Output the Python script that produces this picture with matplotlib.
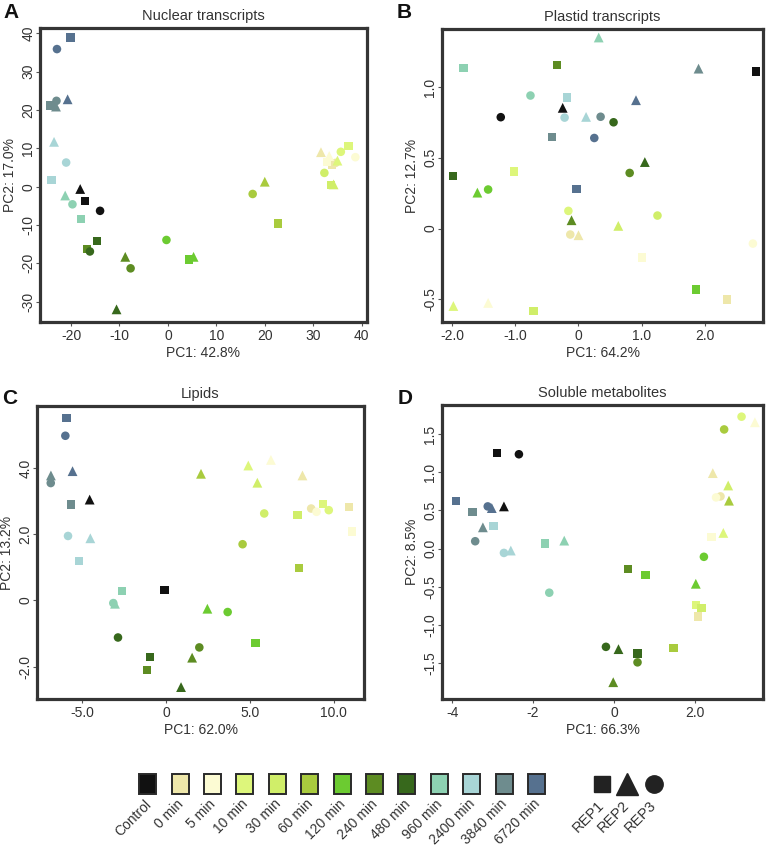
import numpy as np
import matplotlib
matplotlib.use('Agg')
import matplotlib.pyplot as plt
from matplotlib.patches import Rectangle

plt.rcParams['font.family'] = ['Liberation Sans', 'DejaVu Sans']

# conditions and colours
conditions = ['Control', '0 min', '5 min', '10 min', '30 min', '60 min', '120 min',
              '240 min', '480 min', '960 min', '2400 min', '3840 min', '6720 min']
colors = ['#111111', '#EEE7AA', '#FCFBD3', '#DDF67B', '#D0EE69', '#A9CB3E', '#6CCB31',
          '#5D8C22', '#37681C', '#8DD1B2', '#A8D5D6', '#6E8C8E', '#56718F']
reps = ['REP1', 'REP2', 'REP3']
rep_markers = ['s', '^', 'o']
nan = np.nan

# each row = one condition, values for [REP1, REP2, REP3]
nuc_pc1 = [[-17.1, -18.1, -14.0], [33.9, 31.6, 34.6], [32.8, 33.3, 38.7], [37.3, 35.0, 35.7],
           [33.7, 34.2, 32.3], [22.7, 20.0, 17.5], [4.3, 5.3, -0.3], [-16.7, -8.8, -7.7],
           [-14.7, -10.6, -16.1], [-18.0, -21.2, -19.7], [-24.0, -23.5, -21.0],
           [-24.2, -23.1, -23.0], [-20.1, -20.7, -22.9]]
nuc_pc2 = [[-3.8, -0.6, -6.3], [5.6, 9.0, 6.2], [6.5, 8.0, 7.7], [10.6, 6.8, 9.1],
           [0.4, 0.6, 3.6], [-9.6, 1.3, -1.9], [-19.0, -18.3, -13.9], [-16.3, -18.3, -21.3],
           [-14.1, -32.0, -16.9], [-8.5, -2.3, -4.6], [1.7, 11.7, 6.3],
           [21.2, 20.9, 22.4], [38.9, 22.8, 35.9]]

pla_pc1 = [[2.81, -0.25, -1.23], [2.35, 0.0, -0.13], [1.0, -1.43, 2.76], [-1.02, -1.98, -0.16],
           [-0.71, 0.63, 1.25], [nan, nan, nan], [1.86, -1.60, -1.43], [-0.34, -0.11, 0.81],
           [-1.99, 1.05, 0.555], [-1.82, 0.32, -0.76], [-0.18, 0.12, -0.22],
           [-0.42, 1.90, 0.35], [-0.03, 0.91, 0.25]]
pla_pc2 = [[1.11, 0.853, 0.787], [-0.50, -0.047, -0.042], [-0.205, -0.525, -0.106],
           [0.403, -0.547, 0.125], [-0.58, 0.019, 0.092], [nan, nan, nan],
           [-0.431, 0.254, 0.276], [1.154, 0.059, 0.393], [0.37, 0.47, 0.751],
           [1.135, 1.35, 0.94], [0.926, 0.789, 0.784], [0.645, 1.13, 0.79],
           [0.28, 0.907, 0.64]]

lip_pc1 = [[-0.1, -4.56, nan], [10.89, 8.13, 8.65], [11.09, 6.25, 8.97], [9.37, 4.9, 9.7],
           [7.84, 5.44, 5.85], [7.92, 2.08, 4.56], [5.32, 2.46, 3.67], [-1.13, 1.55, 1.98],
           [-0.95, 0.89, -2.87], [-2.64, -3.05, -3.15], [-5.2, -4.52, -5.85],
           [-5.69, -6.87, -6.88], [-5.95, -5.58, -6.01]]
lip_pc2 = [[0.32, 3.05, nan], [2.82, 3.78, 2.78], [2.08, 4.25, 2.68], [2.91, 4.08, 2.73],
           [2.58, 3.56, 2.63], [0.98, 3.83, 1.7], [-1.29, -0.25, -0.35], [-2.1, -1.73, -1.42],
           [-1.70, -2.62, -1.12], [0.28, -0.1, -0.08], [1.2, 1.88, 1.95],
           [2.9, 3.78, 3.55], [5.51, 3.91, 4.98]]

sol_pc1 = [[-2.89, -2.72, -2.35], [2.07, 2.44, 2.63], [2.41, 3.48, 2.52], [2.02, 2.7, 3.15],
           [2.16, 2.82, nan], [1.47, 2.84, 2.72], [0.78, 2.02, 2.22], [0.34, -0.02, 0.58],
           [0.58, 0.11, -0.2], [-1.71, -1.23, -1.6], [-2.98, -2.55, -2.72],
           [-3.5, -3.24, -3.43], [-3.9, -3.02, -3.12]]
sol_pc2 = [[1.248, 0.552, 1.235], [-0.891, 0.988, 0.683], [0.153, 1.654, 0.67],
           [-0.739, 0.205, 1.727], [-0.774, 0.826, nan], [-1.304, 0.627, 1.56],
           [-0.348, -0.461, -0.108], [-0.27, -1.75, -1.49], [-1.374, -1.317, -1.287],
           [0.065, 0.104, -0.578], [0.296, -0.026, -0.057], [0.483, 0.278, 0.096],
           [0.626, 0.53, 0.552]]

W, H = 771, 849
fig = plt.figure(figsize=(W / 100, H / 100), dpi=100)
txt = '#333333'

def box(l, t, r, b):
    return [l / W, 1 - b / H, (r - l) / W, (b - t) / H]

panels = [
    dict(letter='A', title='Nuclear transcripts', pc1=nuc_pc1, pc2=nuc_pc2,
         xl='PC1: 42.8%', yl='PC2: 17.0%', rect=box(40, 28, 367, 322),
         xlim=(-26.4, 41.1), ylim=(-35.3, 41.4),
         xt=[-20, -10, 0, 10, 20, 30, 40], xtl=['-20', '-10', '0', '10', '20', '30', '40'],
         yt=[-30, -20, -10, 0, 10, 20, 30, 40], ytl=['-30', '-20', '-10', '0', '10', '20', '30', '40']),
    dict(letter='B', title='Plastid transcripts', pc1=pla_pc1, pc2=pla_pc2,
         xl='PC1: 64.2%', yl='PC2: 12.7%', rect=box(442, 29, 763, 322),
         xlim=(-2.16, 2.92), ylim=(-0.66, 1.41),
         xt=[-2, -1, 0, 1, 2], xtl=['-2.0', '-1.0', '0', '1.0', '2.0'],
         yt=[-0.5, 0, 0.5, 1.0], ytl=['-0.5', '0', '0.5', '1.0']),
    dict(letter='C', title='Lipids', pc1=lip_pc1, pc2=lip_pc2,
         xl='PC1: 62.0%', yl='PC2: 13.2%', rect=box(37, 406, 364, 699),
         xlim=(-7.7, 11.8), ylim=(-2.98, 5.88),
         xt=[-5, 0, 5, 10], xtl=['-5.0', '0', '5.0', '10.0'],
         yt=[-2, 0, 2, 4], ytl=['-2.0', '0', '2.0', '4.0']),
    dict(letter='D', title='Soluble metabolites', pc1=sol_pc1, pc2=sol_pc2,
         xl='PC1: 66.3%', yl='PC2: 8.5%', rect=box(442, 405, 763, 699),
         xlim=(-4.25, 3.68), ylim=(-1.97, 1.88),
         xt=[-4, -2, 0, 2], xtl=['-4', '-2', '0', '2.0'],
         yt=[-1.5, -1.0, -0.5, 0, 0.5, 1.0, 1.5],
         ytl=['-1.5', '-1.0', '-0.5', '0.0', '0.5', '1.0', '1.5']),
]

sizes = {'s': 36, '^': 50, 'o': 38}

for p in panels:
    ax = fig.add_axes(p['rect'])
    x = np.array(p['pc1'])
    y = np.array(p['pc2'])
    for ci in range(len(conditions)):
        for ri, m in enumerate(rep_markers):
            ax.scatter(x[ci, ri], y[ci, ri], marker=m, s=sizes[m], color=colors[ci],
                       edgecolors='none', zorder=3)
    ax.set_xlim(p['xlim'])
    ax.set_ylim(p['ylim'])
    ax.set_xticks(p['xt'])
    ax.set_xticklabels(p['xtl'])
    ax.set_yticks(p['yt'])
    ax.set_yticklabels(p['ytl'], rotation=90, va='center')
    ax.tick_params(length=3, width=0.8, color='#555555', labelsize=10, labelcolor=txt, pad=2)
    ax.tick_params(axis='y', pad=0.5)
    for s in ax.spines.values():
        s.set_linewidth(2.3)
        s.set_color('#353535')
    ax.set_xlabel(p['xl'], fontsize=10, color=txt, labelpad=2)
    ax.set_ylabel(p['yl'], fontsize=10, color=txt, labelpad=3)
    ax.set_title(p['title'], fontsize=10.5, color=txt, pad=6)

# panel letters
for letter, (lx, ly) in zip('ABCD', [(11, 13), (404, 12), (10, 398), (405, 398)]):
    fig.text(lx / W, 1 - ly / H, letter, fontsize=15, fontweight='bold',
             ha='center', va='center', color='#111111')

# legend at the bottom, in pixel coordinates
lg = fig.add_axes([0, 0, 1, 1], zorder=-1)
lg.set_xlim(0, W)
lg.set_ylim(H, 0)
lg.axis('off')

sw_x0, sw_dx, sw_y = 147.7, 32.4, 784
for i, (lab, c) in enumerate(zip(conditions, colors)):
    cx = sw_x0 + i * sw_dx
    lg.add_patch(Rectangle((cx - 8.5, sw_y - 10), 17, 20, facecolor=c,
                           edgecolor='#2a2a2a', linewidth=1.4))
    lg.text(cx + 6, sw_y + 13, lab, rotation=45, ha='right', va='top',
            fontsize=10, color=txt)

rep_x = [601.5, 627, 653.5]
rep_ms = [12, 15.5, 12.5]
for rx, m, ms, lab in zip(rep_x, rep_markers, rep_ms, reps):
    lg.plot(rx, sw_y, marker=m, markersize=ms, color='#222222', linestyle='none')
    lg.text(rx + 5, sw_y + 14, lab, rotation=45, ha='right', va='top',
            fontsize=10.5, color=txt)

fig.savefig('out.png', dpi=100)
